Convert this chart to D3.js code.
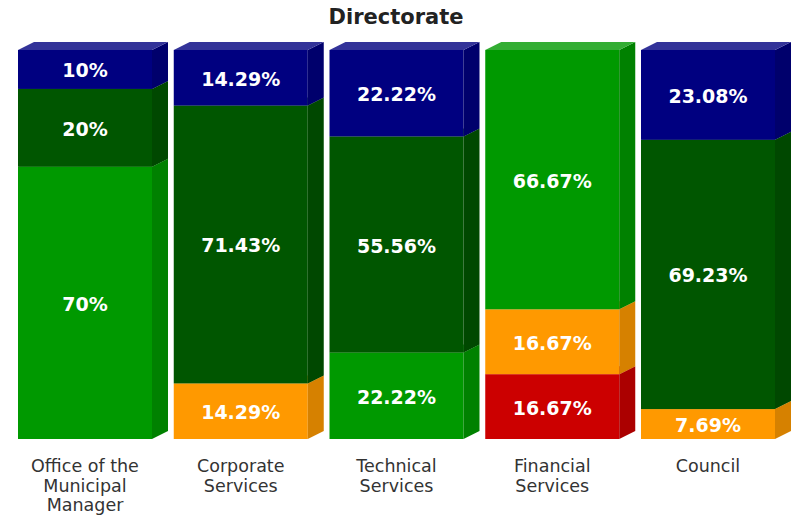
<!DOCTYPE html>
<html>
<head>
<meta charset="utf-8">
<script src="https://cdn.jsdelivr.net/npm/d3@7"></script>
<style>
  html, body { margin: 0; padding: 0; background: #ffffff; }
  svg { display: block; }
</style>
</head>
<body>
<div id="chart"></div>
<script>
// Categories (x axis) and their wrapped tick labels
const categories = ["Office of the Municipal Manager", "Corporate Services", "Technical Services", "Financial Services", "Council"];
const tickLabels = [["Office of the", "Municipal", "Manager"], ["Corporate", "Services"], ["Technical", "Services"], ["Financial", "Services"], ["Council"]];

// Series, stacked from bottom to top (percent of each column)
const seriesKeys = ["red", "orange", "green", "darkgreen", "navy"];
const redValues       = [0, 0, 0, 16.67, 0];
const orangeValues    = [0, 14.29, 0, 16.67, 7.69];
const greenValues     = [70, 0, 22.22, 66.67, 0];
const darkgreenValues = [20, 71.43, 55.56, 0, 69.23];
const navyValues      = [10, 14.29, 22.22, 0, 23.08];
const seriesColors = ["#cc0000", "#ff9900", "#009900", "#005600", "#000080"];

const chartTitle = "Directorate";

// Build rows for d3.stack
const seriesValues = [redValues, orangeValues, greenValues, darkgreenValues, navyValues];
const rows = categories.map((c, i) => {
  const r = { category: c };
  seriesKeys.forEach((k, s) => { r[k] = seriesValues[s][i]; });
  return r;
});
const stacked = d3.stack().keys(seriesKeys)(rows);

const W = 797, H = 517;
const svg = d3.select("#chart").append("svg").attr("width", W).attr("height", H);

const x = d3.scaleBand().domain(categories).range([18, 18 + 5 * 155.75]).paddingInner(0).paddingOuter(0);
const frontW = 134;
const depthX = 16, depthY = 8;
const y = d3.scaleLinear().domain([0, 100]).range([439, 50]);

const colorOf = d3.scaleOrdinal().domain(seriesKeys).range(seriesColors);
const sideColor = c => d3.interpolateRgb(c, "#000000")(0.16);
const topColor = c => d3.interpolateRgb(c, "#ffffff")(0.2);

// Columns: front face, side face and top face for each stacked segment
const layer = svg.append("g").attr("class", "bars");
stacked.forEach(series => {
  const col = colorOf(series.key);
  series.forEach(d => {
    const v = d[1] - d[0];
    if (v <= 0) return;
    const x0 = x(d.data.category), x1 = x0 + frontW;
    const yb = y(d[0]), yt = y(d[1]);
    const g = layer.append("g");
    g.append("rect")
      .attr("x", x0).attr("y", yt)
      .attr("width", frontW).attr("height", yb - yt)
      .attr("fill", col);
    g.append("path")
      .attr("d", `M${x1},${yb}L${x1},${yt}L${x1 + depthX},${yt - depthY}L${x1 + depthX},${yb - depthY}Z`)
      .attr("fill", sideColor(col));
    g.append("path")
      .attr("d", `M${x0},${yt}L${x0 + depthX},${yt - depthY}L${x1 + depthX},${yt - depthY}L${x1},${yt}Z`)
      .attr("fill", topColor(col));
  });
});

// Value labels centred on each segment
const fmt = v => (Math.round(v * 100) / 100) + "%";
const labels = svg.append("g").attr("class", "values")
  .attr("font-family", "'DejaVu Sans', Verdana, sans-serif")
  .attr("font-weight", "bold").attr("font-size", 19).attr("fill", "#ffffff")
  .attr("text-anchor", "middle");
stacked.forEach(series => {
  series.forEach(d => {
    const v = d[1] - d[0];
    if (v <= 0) return;
    labels.append("text")
      .attr("x", x(d.data.category) + frontW / 2)
      .attr("y", (y(d[0]) + y(d[1])) / 2 + 8)
      .text(fmt(v));
  });
});

// Category axis labels
const axis = svg.append("g").attr("class", "x-axis")
  .attr("font-family", "'DejaVu Sans', Verdana, sans-serif")
  .attr("font-size", 17.5).attr("fill", "#333333").attr("text-anchor", "middle");
categories.forEach((c, i) => {
  const t = axis.append("text").attr("x", x(c) + frontW / 2).attr("y", 472);
  tickLabels[i].forEach((line, j) => {
    t.append("tspan").attr("x", x(c) + frontW / 2).attr("dy", j === 0 ? 0 : 19.5).text(line);
  });
});

// Title
svg.append("text")
  .attr("x", 396).attr("y", 24)
  .attr("text-anchor", "middle")
  .attr("font-family", "'DejaVu Sans', Verdana, sans-serif")
  .attr("font-weight", "bold").attr("font-size", 21).attr("fill", "#222222")
  .text(chartTitle);
</script>
</body>
</html>
